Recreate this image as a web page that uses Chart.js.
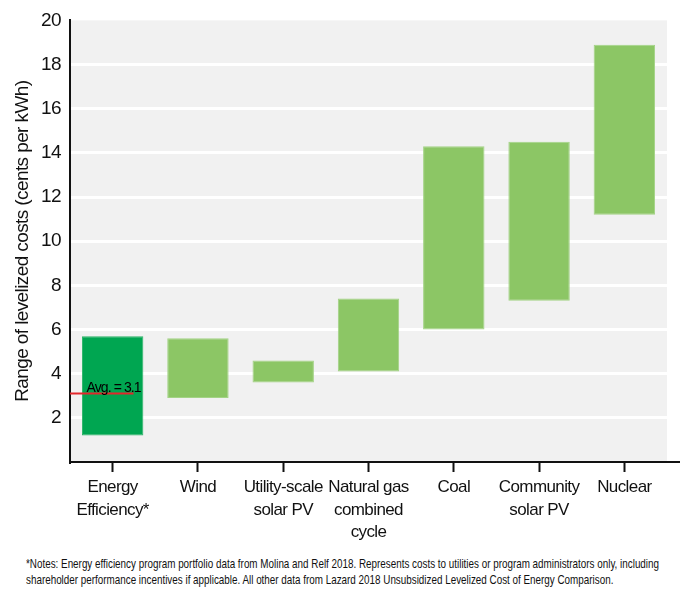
<!DOCTYPE html>
<html>
<head>
<meta charset="utf-8">
<script src="https://cdn.jsdelivr.net/npm/chart.js@4"></script>
<style>
  html, body { margin: 0; padding: 0; background: #fff; }
  #wrap { position: relative; width: 680px; height: 595px; overflow: hidden; }
  #c { position: absolute; left: 0; top: 0; }
  #note { position: absolute; left: 26px; top: 556px; font-family: "Liberation Sans", Arial, sans-serif; font-size: 13px; line-height: 15.5px; color: #111; white-space: nowrap; transform-origin: 0 0; }
</style>
</head>
<body>
<div id="wrap">
  <canvas id="c" width="680" height="545"></canvas>
  <div id="note"><span id="l1">*Notes: Energy efficiency program portfolio data from Molina and Relf 2018. Represents costs to utilities or program administrators only, including</span><br>shareholder performance incentives if applicable. All other data from Lazard 2018 Unsubsidized Levelized Cost of Energy Comparison.</div>
</div>
<script>
const categories = [["Energy", "Efficiency*"], "Wind", ["Utility-scale", "solar PV"], ["Natural gas", "combined", "cycle"], "Coal", ["Community", "solar PV"], "Nuclear"];
const lowValues  = [1.2, 2.9, 3.6, 4.1, 6.0, 7.3, 11.2];
const highValues = [5.7, 5.6, 4.6, 7.4, 14.3, 14.5, 18.9];
const barColors  = ["#00a651", "#8cc665", "#8cc665", "#8cc665", "#8cc665", "#8cc665", "#8cc665"];
const borderColors = ["#29b466", "#a3d385", "#a3d385", "#a3d385", "#a3d385", "#a3d385", "#a3d385"];
const efficiencyAverage = 3.1;
const avgLabel = "Avg. = 3.1";
const yTicks = [2, 4, 6, 8, 10, 12, 14, 16, 18, 20];
const yTitle = "Range of levelized costs (cents per kWh)";

const FONT = '"Liberation Sans", Arial, sans-serif';

// squeeze footnote to the reference width
(function () {
  const note = document.getElementById('note');
  const w = document.getElementById('l1').getBoundingClientRect().width;
  note.style.transform = 'scaleX(' + (633 / w) + ')';
})();

const bgPlugin = {
  id: 'bg',
  beforeDraw(chart) {
    const {ctx, chartArea: a} = chart;
    ctx.letterSpacing = '-0.6px';
    ctx.save();
    ctx.fillStyle = '#f1f1f1';
    ctx.fillRect(a.left, a.top, a.right - a.left, a.bottom - a.top);
    ctx.restore();
  },
  afterDraw(chart) {
    const {ctx, chartArea: a, scales} = chart;
    ctx.save();
    ctx.strokeStyle = '#111';
    ctx.lineWidth = 2;
    ctx.beginPath();
    ctx.moveTo(a.right - 1, a.bottom);
    ctx.lineTo(chart.width, a.bottom);
    ctx.stroke();
    const x = scales.x, y = scales.y;
    const cx = x.getPixelForValue(0);
    const step = x.getPixelForValue(1) - cx;
    const yp = y.getPixelForValue(efficiencyAverage);
    ctx.strokeStyle = '#e3262b';
    ctx.lineWidth = 2;
    ctx.beginPath();
    ctx.moveTo(a.left, yp);
    ctx.lineTo(cx + step * 0.245, yp);
    ctx.stroke();
    ctx.fillStyle = '#000';
    ctx.font = '14px ' + FONT;
    ctx.letterSpacing = '-0.9px';
    ctx.textAlign = 'center';
    ctx.textBaseline = 'alphabetic';
    ctx.fillText(avgLabel, cx + 1, yp - 2);
    ctx.restore();
  }
};

new Chart(document.getElementById('c'), {
  type: 'bar',
  data: {
    labels: categories,
    datasets: [{
      data: lowValues.map((v, i) => [v, highValues[i]]),
      backgroundColor: barColors,
      borderColor: borderColors,
      borderWidth: 1,
      borderSkipped: false,
      barPercentage: 0.72,
      categoryPercentage: 1
    }]
  },
  options: {
    responsive: false,
    animation: false,
    devicePixelRatio: 1,
    layout: { padding: { top: 12, right: 13, left: 0, bottom: 0 } },
    plugins: { legend: { display: false }, tooltip: { enabled: false } },
    scales: {
      x: {
        afterFit(s) { s.height = 83; },
        grid: { offset: false, color: 'transparent', drawTicks: true, tickColor: '#111', tickLength: 10, tickWidth: 2 },
        border: { display: true, color: '#111', width: 2 },
        ticks: { color: '#111', font: { family: FONT, size: 17, lineHeight: 1.33 }, padding: 4, maxRotation: 0, autoSkip: false }
      },
      y: {
        min: 0, max: 20,
        afterFit(s) { s.width = 70; },
        afterBuildTicks(s) { s.ticks = [0].concat(yTicks).map(v => ({ value: v })); },
        grid: {
          color: ctx => (ctx.tick && (ctx.tick.value === 0 || ctx.tick.value === 20)) ? 'transparent' : '#ffffff',
          lineWidth: 3, drawTicks: false
        },
        border: { display: true, color: '#111', width: 2 },
        ticks: { color: '#111', font: { family: FONT, size: 19 }, padding: 9, callback: v => v === 0 ? '' : v },
        title: { display: true, text: yTitle, color: '#111', font: { family: FONT, size: 19 }, padding: { top: 11, bottom: 0 } }
      }
    }
  },
  plugins: [bgPlugin]
});
</script>
</body>
</html>
